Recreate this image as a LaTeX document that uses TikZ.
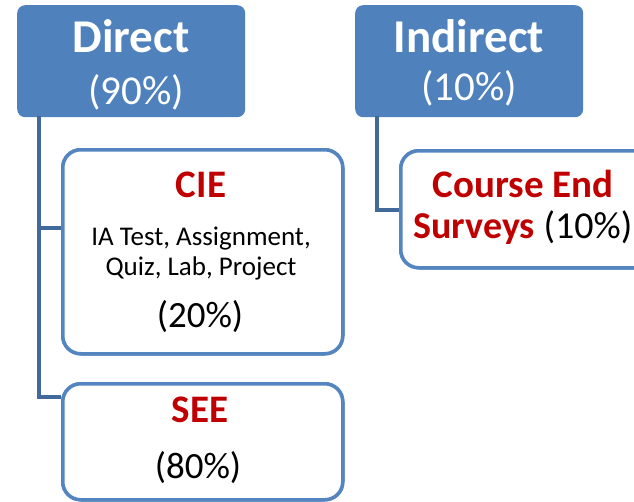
\documentclass[tikz,border=0pt]{standalone}
\usepackage{fontspec}
\setmainfont{Carlito}
\definecolor{hdrblue}{HTML}{4F81BD}
\definecolor{linkblue}{HTML}{41699A}
\definecolor{boxline}{HTML}{5585C0}
\definecolor{accred}{HTML}{C00000}
\tikzset{
  hdrbox/.style={draw=none, fill=hdrblue, rounded corners=8pt, inner sep=0pt},
  itembox/.style={draw=boxline, line width=3.5pt, fill=white, rounded corners=18pt, inner sep=0pt},
  link/.style={draw=linkblue, line width=4.5pt},
  txt/.style={anchor=base, inner sep=0pt},
  hdrtxt/.style={txt, text=white, font=\fontsize{47}{50}\selectfont\bfseries},
  hdrpct/.style={txt, text=white, font=\fontsize{41}{44}\selectfont},
  redtxt/.style={txt, text=accred, font=\fontsize{39}{42}\selectfont\bfseries},
  smalltxt/.style={txt, text=black, font=\fontsize{27}{30}\selectfont},
  pcttxt/.style={txt, text=black, font=\fontsize{37}{40}\selectfont},
}
\begin{document}
\begin{tikzpicture}[x=1pt,y=-1pt]
\useasboundingbox (0,0) rectangle (634,501);
\clip (0,0) rectangle (634,501);
% connector points
\coordinate (dtop) at (39,116);
\coordinate (dcie) at (39,228);
\coordinate (dsee) at (39,397);
\coordinate (itop) at (377,116);
\coordinate (icrs) at (377,210);
% boxes
\node[hdrbox, minimum width=228pt, minimum height=112pt, anchor=north west] (direct) at (17,5) {};
\node[hdrbox, minimum width=228pt, minimum height=112pt, anchor=north west] (indirect) at (355,5) {};
\node[itembox, minimum width=280pt, minimum height=204pt, anchor=north west] (cie) at (61,148) {};
\node[itembox, minimum width=280pt, minimum height=116pt, anchor=north west] (see) at (61,382) {};
\node[itembox, minimum width=270pt, minimum height=117pt, anchor=north west] (crs) at (399,149) {};
\draw[link] (dtop) -- (dsee) -- (see.west |- dsee);
\draw[link] (dcie) -- (cie.west |- dcie);
\draw[link] (itop) -- (icrs) -- (crs.west |- icrs);
% redraw item boxes above connector ends
\node[itembox, minimum width=280pt, minimum height=204pt, anchor=north west] at (61,148) {};
\node[itembox, minimum width=280pt, minimum height=116pt, anchor=north west] at (61,382) {};
\node[itembox, minimum width=270pt, minimum height=117pt, anchor=north west] at (399,149) {};
% texts
\node[hdrtxt] (tdirect) at (131,52) {Direct};
\node[hdrpct] (pdirect) at (136,104) {(90\%)};
\node[hdrtxt] (tindirect) at (469,52) {Indirect};
\node[hdrpct] (pindirect) at (469,100) {(10\%)};
\node[redtxt] (tcie) at (201,197) {CIE};
\node[smalltxt] (lcie1) at (201,245) {IA Test, Assignment,};
\node[smalltxt] (lcie2) at (201,275) {Quiz, Lab, Project};
\node[pcttxt] (pcie) at (200,327) {(20\%)};
\node[redtxt] (tsee) at (200,422) {SEE};
\node[pcttxt] (psee) at (198,478) {(80\%)};
\node[redtxt] (tcrs) at (523,197) {Course End};
\node[txt, font=\fontsize{38}{40}\selectfont] (tsurv) at (523,238) {\textcolor{accred}{\bfseries Surveys} (10\%)};
\end{tikzpicture}
\end{document}
